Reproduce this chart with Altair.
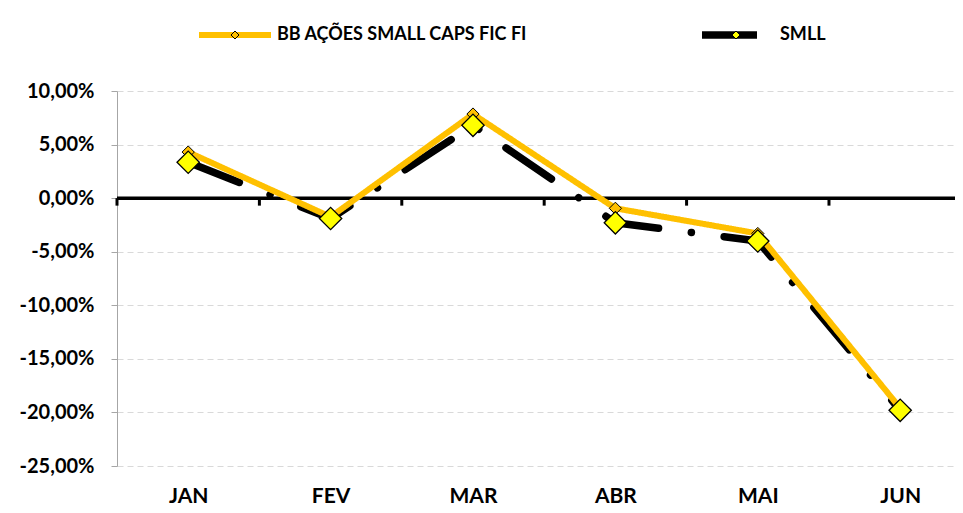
import json
import altair as alt
import pandas as pd

months = ["JAN", "FEV", "MAR", "ABR", "MAI", "JUN"]
series_names = ["BB AÇÕES SMALL CAPS FIC FI", "SMLL"]
series_codes = ["bb", "smll"]
bb_values = [4.3, -1.75, 7.85, -0.95, -3.3, -19.6]
smll_values = [3.35, -1.9, 6.8, -2.3, -4.0, -19.8]
y_ticks = [10, 5, 0, -5, -10, -15, -20, -25]

rows = []
for i, m in enumerate(months):
    rows.append({"idx": i, "month": m, "series": series_names[1], "code": series_codes[1], "value": smll_values[i]})
for i, m in enumerate(months):
    rows.append({"idx": i, "month": m, "series": series_names[0], "code": series_codes[0], "value": bb_values[i]})
df = pd.DataFrame(rows)
bounds = pd.DataFrame({"idx": [i - 0.5 for i in range(len(months))]})
zero = pd.DataFrame({"value": [0]})

FONT = "Lato"
x_axis = alt.Axis(
    values=list(range(len(months))),
    labelExpr=json.dumps(months) + "[datum.value]",
    grid=False, domain=False, ticks=False, title=None,
    labelFont=FONT, labelFontSize=21, labelFontWeight="bold", labelColor="black",
    labelBaseline="alphabetic", labelPadding=36,
)
y_axis = alt.Axis(
    values=y_ticks,
    labelExpr="replace(replace(format(datum.value/100, '.2%'), '.', ','), '\u2212', '-')",
    grid=True, gridDash=[6, 4], gridColor="#D9D9D9", gridWidth=1,
    domainColor="#A6A6A6", tickColor="#A6A6A6", tickSize=6, title=None,
    labelFont=FONT, labelFontSize=20, labelFontWeight="bold", labelColor="black",
    labelPadding=17,
)
xs = alt.Scale(domain=[-0.5, 5.385], nice=False, zero=False)
ys = alt.Scale(domain=[-25, 10], nice=False)
X = alt.X("idx:Q", scale=xs, axis=x_axis)
Y = alt.Y("value:Q", scale=ys, axis=y_axis)

zero_rule = alt.Chart(zero).mark_rule(color="black", strokeWidth=3.5).encode(y=Y)
bound_ticks = alt.Chart(bounds).mark_rule(color="black", strokeWidth=3).encode(
    x=X, y=alt.datum(0), y2=alt.datum(-0.7)
)

line_legend = alt.Legend(
    title=None, orient="none", legendX=78, legendY=-66, direction="horizontal",
    columns=2, symbolType="stroke", symbolSize=5184, symbolStrokeWidth=7,
    labelFont=FONT, labelFontSize=18, labelFontWeight="bold", labelColor="black",
    labelOffset=2, labelLimit=600, columnPadding=170, clipHeight=20, padding=0,
)
lines = alt.Chart(df).mark_line(strokeCap="round", strokeJoin="round").encode(
    x=X, y=Y,
    stroke=alt.Stroke("series:N", scale=alt.Scale(domain=series_names, range=["#FFC000", "#000000"]),
                      legend=line_legend),
    strokeDash=alt.StrokeDash("series:N", scale=alt.Scale(domain=series_names, range=[[1, 0], [55, 33, 0.1, 33]]),
                              legend=None),
    strokeWidth=alt.StrokeWidth("series:N", scale=alt.Scale(domain=series_names, range=[6, 7.5]),
                                legend=None),
)

# diamond-only legend laid over the line legend (no text of its own)
pt_legend = alt.Legend(
    title=None, orient="none", legendX=78, legendY=-66, direction="horizontal",
    columns=2, symbolType="diamond", symbolSize=64, symbolStrokeWidth=1, symbolStrokeColor="black",
    symbolOffset=31, labelExpr="''",
    labelFont=FONT, labelFontSize=18, labelFontWeight="bold",
    labelOffset=64, columnPadding=388, clipHeight=20, padding=0,
)
fill_scale = alt.Scale(domain=series_codes, range=["#FFC000", "#FFFF00"])
pts_bb = alt.Chart(df).transform_filter(alt.datum.code == series_codes[0]).mark_point(
    shape="diamond", filled=True, size=150, stroke="black", strokeWidth=1, opacity=1
).encode(x=X, y=Y, fill=alt.Fill("code:N", scale=fill_scale, legend=pt_legend))
pts_smll = alt.Chart(df).transform_filter(alt.datum.code == series_codes[1]).mark_point(
    shape="diamond", filled=True, size=500, stroke="black", strokeWidth=1.3, opacity=1
).encode(x=X, y=Y, fill=alt.Fill("code:N", scale=fill_scale, legend=pt_legend))

chart = alt.layer(zero_rule, bound_ticks, lines, pts_bb, pts_smll).properties(
    width=838, height=375,
    padding={"left": 109, "top": 83, "right": 0, "bottom": 39},
    autosize=alt.AutoSizeParams(type="none"),
    background="white",
).configure_view(stroke=None)

chart.save("out.html", embed_options={"renderer": "svg", "actions": False})
